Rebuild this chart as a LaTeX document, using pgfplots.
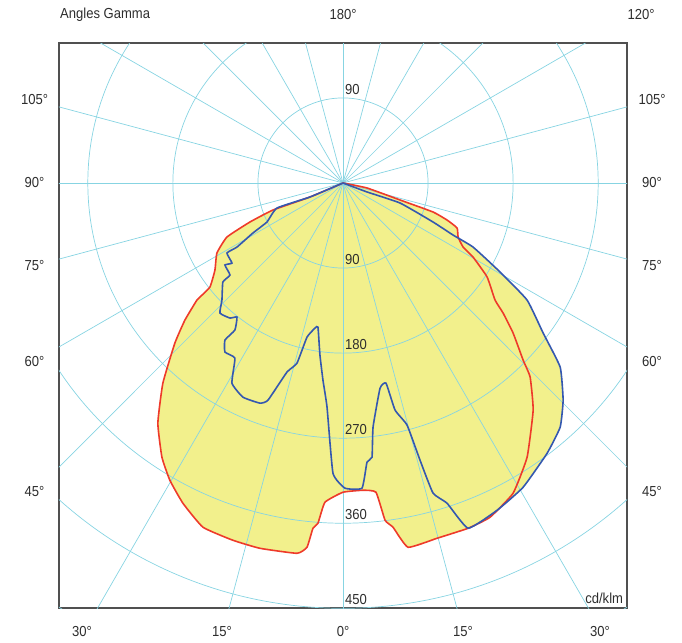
\documentclass[border=0pt]{standalone}
\usepackage{fontspec}
\setmainfont{Liberation Sans}[FakeStretch=0.9]
\usepackage{pgfplots}
\pgfplotsset{compat=1.18}
\definecolor{gridc}{RGB}{135,212,226}
\definecolor{fillc}{RGB}{242,240,140}
\definecolor{redc}{RGB}{238,58,42}
\definecolor{bluec}{RGB}{52,88,176}
\definecolor{boxc}{RGB}{80,80,80}
\definecolor{txtc}{RGB}{45,45,45}
\pgfplotstableset{col sep=space}
\begin{document}
\begin{tikzpicture}[font=\fontsize{14.5}{16}\selectfont]
\begin{axis}[
  scale only axis, width=568pt, height=565pt,
  xmin=-300.5, xmax=300.5, ymin=-449.7, ymax=148.1,
  xtick=\empty, ytick=\empty,
  axis line style={boxc, line width=1.2pt},
  clip=true,
]
% C0-C180 (red)
\addplot[fill=fillc, draw=none, smooth, tension=0.25] coordinates {
(0,0) (-34.9,-14.8) (-74.1,-28.6) (-98.5,-41.3) (-122.8,-57.2) (-133.4,-74.1) (-135.5,-92.1) (-140.8,-110.1) (-151.4,-120.7) (-154.6,-123.9) (-167.3,-145.1) (-177.9,-169.4) (-190.6,-211.8) (-195.9,-254.1) (-191.6,-290.1) (-183.2,-314.5) (-169.4,-338.8) (-148.2,-364.2) (-116.5,-378.0) (-87.9,-386.5) (-48.7,-391.8) (-38.1,-385.4) (-31.8,-365.3) (-26.5,-360.0) (-19.1,-337.8) (0,-327.2) (21.2,-325.1) (34.9,-327.2) (44.5,-356.8) (52.9,-364.2) (68.8,-385.4) (99.5,-375.9) (132.4,-365.3) (155.6,-353.6) (180.0,-328.2) (194.8,-290.1) (201.2,-240.3) (198.0,-205.4) (190.6,-187.4) (180.0,-158.8) (169.4,-137.6) (160.9,-123.9) (152.5,-99.5) (137.6,-78.4) (127.1,-67.8) (121.8,-57.2) (120.7,-47.6) (110.1,-39.2) (95.3,-30.7) (60.4,-18.0) (25.4,-5.3) (0,0)
} -- cycle;
% C90-C270 (blue)
\addplot[fill=fillc, draw=none, smooth, tension=0.25] coordinates {
(0,0) (-34.9,-14.8) (-69.9,-26.5) (-80.5,-41.3) (-95.3,-52.9) (-112.2,-67.8) (-122.8,-74.1) (-117.5,-84.7) (-124.9,-86.8) (-119.6,-97.4) (-127.1,-104.8) (-128.1,-123.9) (-130.2,-137.6) (-119.6,-142.9) (-112.2,-141.9) (-114.4,-155.6) (-124.9,-166.2) (-124.9,-178.9) (-114.4,-185.3) (-117.5,-211.8) (-105.9,-226.6) (-87.9,-232.9) (-79.4,-229.8) (-59.3,-200.1) (-48.7,-190.6) (-38.1,-163.1) (-29.6,-153.5) (-26.5,-152.5) (-24.4,-182.1) (-21.2,-208.6) (-16.9,-237.2) (-10.6,-307.1) (2.1,-322.9) (20.1,-322.9) (25.4,-295.4) (30.7,-290.1) (31.8,-258.3) (39.2,-217.1) (45.5,-211.8) (55.1,-240.3) (67.8,-256.2) (81.5,-293.3) (95.3,-328.2) (110.1,-338.8) (132.4,-365.3) (163.1,-346.2) (190.6,-321.9) (216.0,-285.9) (229.8,-258.3) (232.9,-229.8) (229.8,-194.8) (211.8,-158.8) (194.8,-123.9) (166.2,-94.2) (137.6,-67.8) (116.5,-55.1) (95.3,-41.3) (60.4,-21.2) (25.4,-9.5) (0,0)
} -- cycle;
% polar grid
\pgfplotsinvokeforeach{90,180,270,360,450,540,630}{
  \draw[gridc, line width=0.7pt] (axis cs:0,0) circle[radius=#1];
}
\pgfplotsinvokeforeach{0,15,30,45,60,75,90,105,120,135,150,165,180,195,210,225,240,255,270,285,300,315,330,345}{
  \draw[gridc, line width=0.7pt] (axis cs:0,0) -- (axis cs:{800*cos(#1)},{800*sin(#1)});
}
% curves
\addplot[redc, line width=1.6pt, smooth, tension=0.25] coordinates {
(0,0) (-34.9,-14.8) (-74.1,-28.6) (-98.5,-41.3) (-122.8,-57.2) (-133.4,-74.1) (-135.5,-92.1) (-140.8,-110.1) (-151.4,-120.7) (-154.6,-123.9) (-167.3,-145.1) (-177.9,-169.4) (-190.6,-211.8) (-195.9,-254.1) (-191.6,-290.1) (-183.2,-314.5) (-169.4,-338.8) (-148.2,-364.2) (-116.5,-378.0) (-87.9,-386.5) (-48.7,-391.8) (-38.1,-385.4) (-31.8,-365.3) (-26.5,-360.0) (-19.1,-337.8) (0,-327.2) (21.2,-325.1) (34.9,-327.2) (44.5,-356.8) (52.9,-364.2) (68.8,-385.4) (99.5,-375.9) (132.4,-365.3) (155.6,-353.6) (180.0,-328.2) (194.8,-290.1) (201.2,-240.3) (198.0,-205.4) (190.6,-187.4) (180.0,-158.8) (169.4,-137.6) (160.9,-123.9) (152.5,-99.5) (137.6,-78.4) (127.1,-67.8) (121.8,-57.2) (120.7,-47.6) (110.1,-39.2) (95.3,-30.7) (60.4,-18.0) (25.4,-5.3) (0,0)
};
\addplot[bluec, line width=1.6pt, smooth, tension=0.25] coordinates {
(0,0) (-34.9,-14.8) (-69.9,-26.5) (-80.5,-41.3) (-95.3,-52.9) (-112.2,-67.8) (-122.8,-74.1) (-117.5,-84.7) (-124.9,-86.8) (-119.6,-97.4) (-127.1,-104.8) (-128.1,-123.9) (-130.2,-137.6) (-119.6,-142.9) (-112.2,-141.9) (-114.4,-155.6) (-124.9,-166.2) (-124.9,-178.9) (-114.4,-185.3) (-117.5,-211.8) (-105.9,-226.6) (-87.9,-232.9) (-79.4,-229.8) (-59.3,-200.1) (-48.7,-190.6) (-38.1,-163.1) (-29.6,-153.5) (-26.5,-152.5) (-24.4,-182.1) (-21.2,-208.6) (-16.9,-237.2) (-10.6,-307.1) (2.1,-322.9) (20.1,-322.9) (25.4,-295.4) (30.7,-290.1) (31.8,-258.3) (39.2,-217.1) (45.5,-211.8) (55.1,-240.3) (67.8,-256.2) (81.5,-293.3) (95.3,-328.2) (110.1,-338.8) (132.4,-365.3) (163.1,-346.2) (190.6,-321.9) (216.0,-285.9) (229.8,-258.3) (232.9,-229.8) (229.8,-194.8) (211.8,-158.8) (194.8,-123.9) (166.2,-94.2) (137.6,-67.8) (116.5,-55.1) (95.3,-41.3) (60.4,-21.2) (25.4,-9.5) (0,0)
};
% circle labels
\node[anchor=south west, inner sep=0pt, text=txtc] at (axis cs:2.1,93.2) {90};
\pgfplotsinvokeforeach{90,180,270,360,450}{
  \node[anchor=south west, inner sep=0pt, text=txtc] at (axis cs:2.1,{-#1+3.2}) {#1};
}
\node[anchor=south east, inner sep=0pt, text=txtc] at (axis cs:296.5,-445.5) {cd/klm};
\coordinate (O) at (axis cs:0,0);
\end{axis}
\path (O) ++(-343pt,183pt) rectangle ++(682pt,-642pt);
\begin{scope}[every node/.style={text=txtc, inner sep=0pt}]
\node[anchor=west] at ([shift={(-283pt,168pt)}]O) {Angles Gamma};
\node at ([shift={(0pt,168pt)}]O) {180°};
\node at ([shift={(298pt,168pt)}]O) {120°};
\node at ([shift={(-308.5pt,83pt)}]O) {105°};
\node at ([shift={(-308.5pt,0pt)}]O) {90°};
\node at ([shift={(-308.5pt,-83pt)}]O) {75°};
\node at ([shift={(-308.5pt,-179pt)}]O) {60°};
\node at ([shift={(-308.5pt,-309pt)}]O) {45°};
\node at ([shift={(309pt,83pt)}]O) {105°};
\node at ([shift={(309pt,0pt)}]O) {90°};
\node at ([shift={(309pt,-83pt)}]O) {75°};
\node at ([shift={(309pt,-179pt)}]O) {60°};
\node at ([shift={(309pt,-309pt)}]O) {45°};
\node at ([shift={(-261pt,-449pt)}]O) {30°};
\node at ([shift={(-121pt,-449pt)}]O) {15°};
\node at ([shift={(0pt,-449pt)}]O) {0°};
\node at ([shift={(120pt,-449pt)}]O) {15°};
\node at ([shift={(257pt,-449pt)}]O) {30°};
\end{scope}
\end{tikzpicture}
\end{document}
